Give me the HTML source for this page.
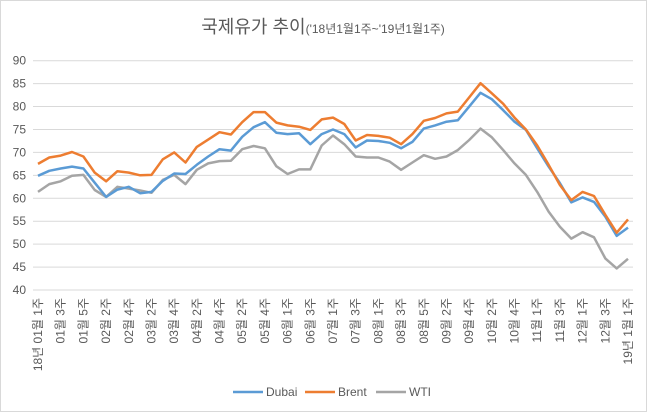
<!DOCTYPE html>
<html><head><meta charset="utf-8"><style>
body{margin:0;background:#fff}
svg{display:block;font-family:"Liberation Sans","Noto Sans CJK KR",sans-serif}
</style></head><body>
<svg id="chart" width="647" height="412" viewBox="0 0 647 412">
<rect x="0.5" y="0.5" width="646" height="411" fill="#fff" stroke="#d9d9d9"/>
<text x="323" y="33" text-anchor="middle" fill="#595959"><tspan font-size="18">국제유가 추이</tspan><tspan font-size="12">('18년1월1주~'19년1월1주)</tspan></text>
<g id="grid"></g><g id="yl"></g><g id="xl"></g><g id="lines"></g>
<g font-size="12" fill="#595959">
<line x1="233" y1="392" x2="263" y2="392" stroke="#5b9bd5" stroke-width="2.5"/><text x="266" y="396">Dubai</text>
<line x1="305" y1="392" x2="335" y2="392" stroke="#ed7d31" stroke-width="2.5"/><text x="338" y="396">Brent</text>
<line x1="376" y1="392" x2="406" y2="392" stroke="#a5a5a5" stroke-width="2.5"/><text x="409" y="396">WTI</text>
</g>
</svg>
<script>
const categories=["18년 01월 1주","01월 3주","01월 5주","02월 2주","02월 4주","03월 2주","03월 4주","04월 2주","04월 4주","05월 2주","05월 4주","06월 1주","06월 3주","07월 1주","07월 3주","08월 1주","08월 3주","08월 5주","09월 2주","09월 4주","10월 2주","10월 4주","11월 1주","11월 3주","12월 1주","12월 3주","19년 1월 1주"];
const yTicks=[40,45,50,55,60,65,70,75,80,85,90];
const dubai=[64.9,66.0,66.5,66.9,66.5,63.4,60.3,61.9,62.5,61.1,61.4,63.8,65.4,65.3,67.3,69.1,70.7,70.4,73.4,75.5,76.6,74.3,74.0,74.2,71.8,74.0,75.0,74.0,71.1,72.6,72.5,72.1,70.9,72.3,75.2,75.9,76.7,77.0,80.0,83.0,81.6,79.2,76.7,74.9,70.9,66.9,63.3,59.1,60.2,59.2,56.0,51.8,53.6];
const brent=[67.5,68.9,69.3,70.1,69.1,65.6,63.7,65.9,65.6,65.0,65.1,68.5,70.0,67.8,71.2,72.8,74.4,73.9,76.6,78.8,78.8,76.5,75.9,75.6,74.9,77.2,77.6,76.2,72.6,73.8,73.6,73.2,71.8,74.0,76.9,77.5,78.5,78.9,82.0,85.1,82.9,80.6,77.6,75.0,71.5,67.3,62.9,59.6,61.4,60.5,56.4,52.5,55.4];
const wti=[61.4,63.1,63.7,64.9,65.1,61.8,60.3,62.5,62.1,61.7,61.2,64.0,65.1,63.1,66.2,67.6,68.1,68.2,70.7,71.4,70.9,67.0,65.3,66.3,66.3,71.5,73.7,71.8,69.1,68.9,68.9,68.0,66.2,67.8,69.4,68.6,69.1,70.5,72.7,75.2,73.3,70.5,67.6,65.1,61.4,57.1,53.8,51.2,52.6,51.5,46.9,44.7,46.8];
const NS="http://www.w3.org/2000/svg";
const x0=38,x1=628,gL=33,gR=633,yTop=60.7,yBot=290;
const n=dubai.length;
function xs(i){return x0+(x1-x0)*i/(n-1);}
function ys(v){return yBot-(v-40)/(90-40)*(yBot-yTop);}
function mk(t,a,p){const e=document.createElementNS(NS,t);for(const k in a)e.setAttribute(k,a[k]);p.appendChild(e);return e;}
const grid=document.getElementById('grid'),yl=document.getElementById('yl'),xl=document.getElementById('xl'),lines=document.getElementById('lines');
yTicks.forEach(v=>{
 const l=mk('line',{x1:gL,x2:gR,y1:ys(v),y2:ys(v),stroke:'#d9d9d9','stroke-width':1},grid);
 
 
 const t=mk('text',{x:26,y:ys(v)+4,'text-anchor':'end','font-size':12,fill:'#595959'},yl);
 
 
 t.textContent=v;
});
categories.forEach((c,k)=>{
 const x=xs(k*2);
 const t=mk('text',{x:0,y:0,transform:`translate(${x+4},298) rotate(-90)`,'text-anchor':'end','font-size':12,fill:'#595959'},xl);
 
 
 t.textContent=c;
});
[[wti,'#a5a5a5','wti-line'],[dubai,'#5b9bd5','dubai-line'],[brent,'#ed7d31','brent-line']].forEach(([d,col,name])=>{
 const p=mk('polyline',{points:d.map((v,i)=>xs(i).toFixed(1)+','+ys(v).toFixed(1)).join(' '),fill:'none',stroke:col,'stroke-width':2.5,'stroke-linejoin':'round'},lines);
 
 
});
</script>
</body></html>
